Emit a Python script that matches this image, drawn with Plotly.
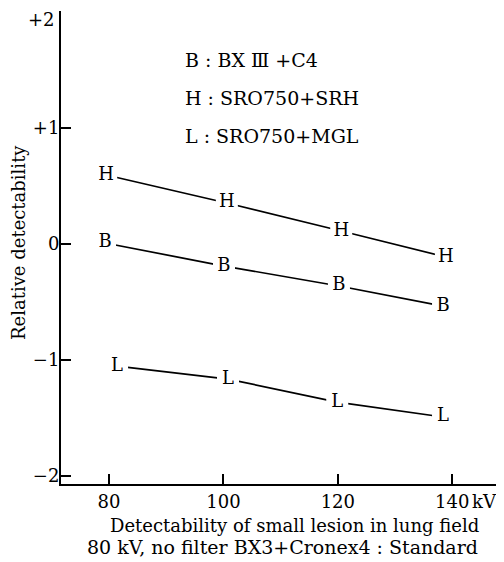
import plotly.graph_objects as go

# Data
kv_H = [79.5, 100.6, 120.6, 138.9]
val_H = [0.595, 0.354, 0.112, -0.112]
kv_B = [79.3, 100.1, 120.2, 138.4]
val_B = [0.009, -0.19, -0.362, -0.535]
kv_L = [81.4, 100.8, 119.9, 138.4]
val_L = [-1.053, -1.165, -1.363, -1.492]

series = [("H", kv_H, val_H), ("B", kv_B, val_B), ("L", kv_L, val_L)]

x_tickvals = [80, 100, 120, 140]
x_ticktext = ["80", "100", "120", "140"]
x_unit = "kV"
y_tickvals = [1, 0, -1, -2]
y_ticktext = ["+1", "0", "\u22121", "\u22122"]
y_top_label = "+2"

legend_lines = ["B : BX \u2162 +C4", "H : SRO750+SRH", "L : SRO750+MGL"]
xtitle_lines = ["Detectability of small lesion in lung field",
                "80 kV, no filter BX3+Cronex4 : Standard"]
ytitle = "Relative detectability"

FONT = "DejaVu Serif"
FS = 18

# page body has an 8px margin, so the figure is drawn 8px smaller
W, H = 496, 554
L_M, R_M, T_M, B_M = 53, 0, 3, 78
PW = W - L_M - R_M
PH = H - T_M - B_M

fig = go.Figure()
for letter, xs, ys in series:
    fig.add_trace(go.Scatter(
        x=xs, y=ys, mode="lines+markers+text",
        text=[letter] * len(xs), textposition="middle center",
        textfont=dict(family=FONT, size=FS, color="black"),
        line=dict(color="black", width=1.7),
        marker=dict(symbol="square", size=22, color="white", line=dict(width=0)),
        showlegend=False, cliponaxis=False,
    ))

annotations = []
for i, t in enumerate(legend_lines):
    annotations.append(dict(
        text=t, xref="paper", yref="paper",
        x=(175 - L_M) / PW, y=1 - (49 + 38 * i) / PH,
        xanchor="left", yanchor="middle", showarrow=False,
        font=dict(family=FONT, size=19, color="black")))
for i, t in enumerate(xtitle_lines):
    annotations.append(dict(
        text=t, xref="paper", yref="paper",
        x=((286 - 12 * i) - L_M) / PW, y=-(41 + 22 * i) / PH,
        xanchor="center", yanchor="middle", showarrow=False,
        font=dict(family=FONT, size=FS + i, color="black")))
annotations.append(dict(
    text=ytitle, xref="paper", yref="paper",
    x=(10 - L_M) / PW, y=1 - 232 / PH, textangle=-90,
    xanchor="center", yanchor="middle", showarrow=False,
    font=dict(family=FONT, size=FS, color="black")))
annotations.append(dict(
    text=x_unit, xref="x", yref="paper", x=x_tickvals[-1], y=-17 / PH,
    xanchor="left", yanchor="middle", xshift=18, showarrow=False,
    font=dict(family=FONT, size=FS, color="black")))
annotations.append(dict(
    text=y_top_label, xref="paper", yref="paper", x=0, y=1 + T_M / PH,
    xanchor="right", yanchor="top", xshift=-5, showarrow=False, borderpad=0,
    font=dict(family=FONT, size=FS, color="black")))

fig.update_layout(
    width=W, height=H,
    margin=dict(l=L_M, r=R_M, t=T_M, b=B_M, autoexpand=False),
    paper_bgcolor="white", plot_bgcolor="white",
    font=dict(family=FONT, size=FS, color="black"),
    annotations=annotations,
    xaxis=dict(range=[71.6, 149.06], showgrid=False, zeroline=False,
               showline=True, linecolor="black", linewidth=2,
               ticks="inside", ticklen=10, tickwidth=1.5, tickcolor="black",
               tickvals=x_tickvals, ticktext=x_ticktext, automargin=False),
    yaxis=dict(range=[-2.07, 2.01], showgrid=False, zeroline=False,
               showline=True, linecolor="black", linewidth=2,
               ticks="inside", ticklen=10, tickwidth=1.5, tickcolor="black",
               tickvals=y_tickvals, ticktext=y_ticktext, automargin=False,
               ticklabelstandoff=-4),
)

fig.write_html("out.html")
